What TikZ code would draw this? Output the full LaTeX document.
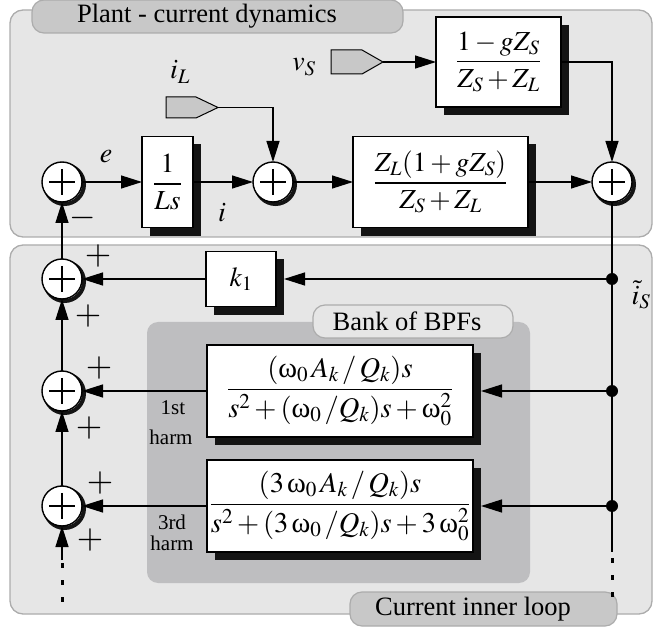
\documentclass[tikz,border=0pt]{standalone}
\usepackage{mathptmx}
\usepackage[no-math]{fontspec}
\setmainfont{Liberation Serif}
\newfontfamily\tfont{Liberation Serif}
\newcommand\upom{\mbox{\tfont ω}}
\usetikzlibrary{arrows.meta}
\definecolor{panelc}{RGB}{230,230,230}
\definecolor{borderc}{RGB}{172,172,172}
\definecolor{tabc}{RGB}{200,200,200}
\definecolor{bankc}{RGB}{190,190,192}
\definecolor{tagc}{RGB}{200,200,200}
\definecolor{shadowc}{RGB}{20,20,20}
\begin{document}
\begin{tikzpicture}[x=1pt,y=-1pt,
  every node/.style={inner sep=0pt, outer sep=0pt},
  panel/.style={fill=panelc, draw=borderc, line width=1.3pt, rounded corners=13pt},
  tabbox/.style={fill=tabc, draw=borderc, line width=1.2pt, rounded corners=12pt},
  tabtext/.style={font=\tfont\fontsize{26.5}{30}\selectfont},
  smalltext/.style={font=\tfont\fontsize{21}{24}\selectfont},
  mathtext/.style={font=\fontsize{28}{32}\selectfont},
  pmsign/.style={font=\fontsize{34}{36}\selectfont},
  tagst/.style={fill=tagc, draw=black, line width=1pt},
  blk/.style={draw, fill=white, line width=1.4pt, font=\fontsize{27.5}{32}\selectfont},
  bpf/.style={blk, font=\fontsize{28.5}{32}\selectfont, minimum width=266pt, minimum height=92pt},
  boxshadow/.style={draw=shadowc, line width=8.5pt, line join=miter},
  ringshadow/.style={draw=shadowc, line width=4pt},
  sumn/.style={circle, draw, fill=white, line width=1.4pt, minimum size=40pt},
  plusbar/.style={line width=1.1pt},
  dotn/.style={circle, fill=black, minimum size=12pt},
  wire/.style={line width=1.3pt},
  arr/.style={line width=1.3pt, -{Triangle[length=21pt,width=13pt]}},
  dotsline/.style={line width=3pt, dash pattern=on 5pt off 12pt}
]
\useasboundingbox (0,0) rectangle (654,628);
% panels
\draw[panel] (10,10) rectangle (652,237);
\draw[panel] (10,245) rectangle (652,614);
\fill[bankc, rounded corners=11pt] (147,322) rectangle (530,583);
\draw[tabbox] (32,0) rectangle (403,33);
\draw[panel, rounded corners=12pt, line width=1.2pt] (313,305) rectangle (513,338);
\draw[tabbox] (350,592) rectangle (617,626);
% tab texts
\node[tabtext] (tP) at (207,16.5) {Plant - current dynamics};
\node[tabtext] (tB) at (407,321.5) {Bank of BPFs};
\node[tabtext] (tC) at (473,609) {Current inner loop};
% input tags
\draw[tagst] (166,97) -- (196,97) -- (218,107.5) -- (196,118) -- (166,118) -- cycle;
\coordinate (iLtip) at (218,107.5);
\draw[tagst] (331,50) -- (362,50) -- (383,62) -- (362,74) -- (331,74) -- cycle;
\coordinate (vStip) at (383,62);
% shadows: thick strokes along the right and lower sides, drawn before the blocks
\draw[boxshadow] (197,144.5) -- (197,231.5) -- (150,231.5);
\draw[boxshadow] (565,25) -- (565,111) -- (444,111);
\draw[boxshadow] (532,144.5) -- (532,231.5) -- (361,231.5);
\draw[boxshadow] (280,259.5) -- (280,310.5) -- (214,310.5);
\draw[boxshadow] (477,353) -- (477,441) -- (215,441);
\draw[boxshadow] (477,468) -- (477,556) -- (215,556);
\draw[ringshadow] (64.5,184.5) circle (19.5pt);
\draw[ringshadow] (275.5,184.5) circle (19.5pt);
\draw[ringshadow] (614.5,184.5) circle (19.5pt);
\draw[ringshadow] (64.5,281.5) circle (19.5pt);
\draw[ringshadow] (64.5,393.5) circle (19.5pt);
\draw[ringshadow] (64.5,508.5) circle (19.5pt);
% blocks
\node[sumn] (s1) at (62,182) {};
\node[sumn] (s2) at (273,182) {};
\node[sumn] (s3) at (612,182) {};
\node[blk, minimum width=51pt, minimum height=91pt] (b1) at (167.5,182) {$\displaystyle\frac{1}{Ls}$};
\node[blk, minimum width=125pt, minimum height=90pt] (bv) at (498.5,62) {$\displaystyle\frac{1-gZ_S}{Z_S+Z_L}$};
\node[blk, minimum width=175pt, minimum height=91pt] (bz) at (440.5,182) {$\displaystyle\frac{Z_L(1+gZ_S)}{Z_S+Z_L}$};
\node[blk, minimum width=70pt, minimum height=55pt] (k1) at (241,279) {$k_1$};
\node[sumn] (s4) at (62,279) {};
\node[sumn] (s5) at (62,391) {};
\node[sumn] (s6) at (62,506) {};
\node[bpf] (f1) at (340,391) {$\displaystyle\frac{(\upom_0\,A_k\,/\,Q_k)s}{s^2+(\upom_0\,/Q_k)s+\upom_0^2}$};
\node[bpf] (f2) at (340,506) {$\displaystyle\frac{(3\,\upom_0\,A_k\,/\,Q_k)s}{s^2+(3\,\upom_0\,/Q_k)s+3\,\upom_0^2}$};
% plus signs inside the summing junctions
\foreach \s in {s1,s2,s3,s4,s5,s6}{
  \draw[plusbar] (\s.center) +(-13,0) -- +(13,0);
  \draw[plusbar] (\s.center) +(0,-13) -- +(0,13);
}
% junctions
\node[dotn] (j1) at (612,279) {};
\node[dotn] (j2) at (612,391) {};
\node[dotn] (j3) at (612,506) {};
\coordinate (rEnd) at (612,552);
\coordinate (rStart) at (612,558);
\coordinate (rDot) at (612,602);
\coordinate (lEnd) at (62,560);
\coordinate (lStart) at (62,563);
\coordinate (lDot) at (62,604);
\coordinate (k1in) at (284,279);
\coordinate (f1in) at (481,391);
\coordinate (f2in) at (481,506);
% connectors
\draw[arr] (s1.east) -- (b1.west);
\draw[arr] (b1.east) -- (s2.west);
\draw[arr] (s2.east) -- (bz.west);
\draw[arr] (bz.east) -- (s3.west);
\draw[arr] (iLtip) -| (s2.north);
\draw[arr] (vStip) -- (bv.west);
\draw[arr] (bv.east) -| (s3.north);
\draw[wire] (s3.south) -- (j1.center) -- (j2.center) -- (j3.center) -- (rEnd);
\draw[dotsline] (rStart) -- (rDot);
\draw[arr] (j1) -- (k1in);
\draw[arr] (k1.west) -- (s4.east);
\draw[arr] (j2) -- (f1in);
\draw[arr] (f1.west) -- (s5.east);
\draw[arr] (j3) -- (f2in);
\draw[arr] (f2.west) -- (s6.east);
\draw[arr] (s4.north) -- (s1.south);
\draw[arr] (s5.north) -- (s4.south);
\draw[arr] (s6.north) -- (s5.south);
\draw[arr] (lEnd) -- (s6.south);
\draw[dotsline] (lStart) -- (lDot);
% labels
\node[mathtext] (le) at (106,157) {$e$};
\node[mathtext] (li) at (222,213) {$i$};
\node[mathtext] (liL) at (180,72) {$i_L$};
\node[mathtext] (lvS) at (304,67) {$v_S$};
\node[mathtext] (liS) at (641,295) {$\tilde{i}_S$};
\node[pmsign] (m1) at (83,218) {$-$};
\node[pmsign] (p1) at (98,256) {$+$};
\node[pmsign] (p2) at (88,316) {$+$};
\node[pmsign] (p3) at (99,368) {$+$};
\node[pmsign] (p4) at (89,428) {$+$};
\node[pmsign] (p5) at (100,483) {$+$};
\node[pmsign] (p6) at (90,540) {$+$};
\node[smalltext] (h1a) at (173,408) {1st};
\node[smalltext] (h1b) at (171,437) {harm};
\node[smalltext] (h3a) at (172,522) {3rd};
\node[smalltext] (h3b) at (172,543) {harm};
\end{tikzpicture}
\end{document}
